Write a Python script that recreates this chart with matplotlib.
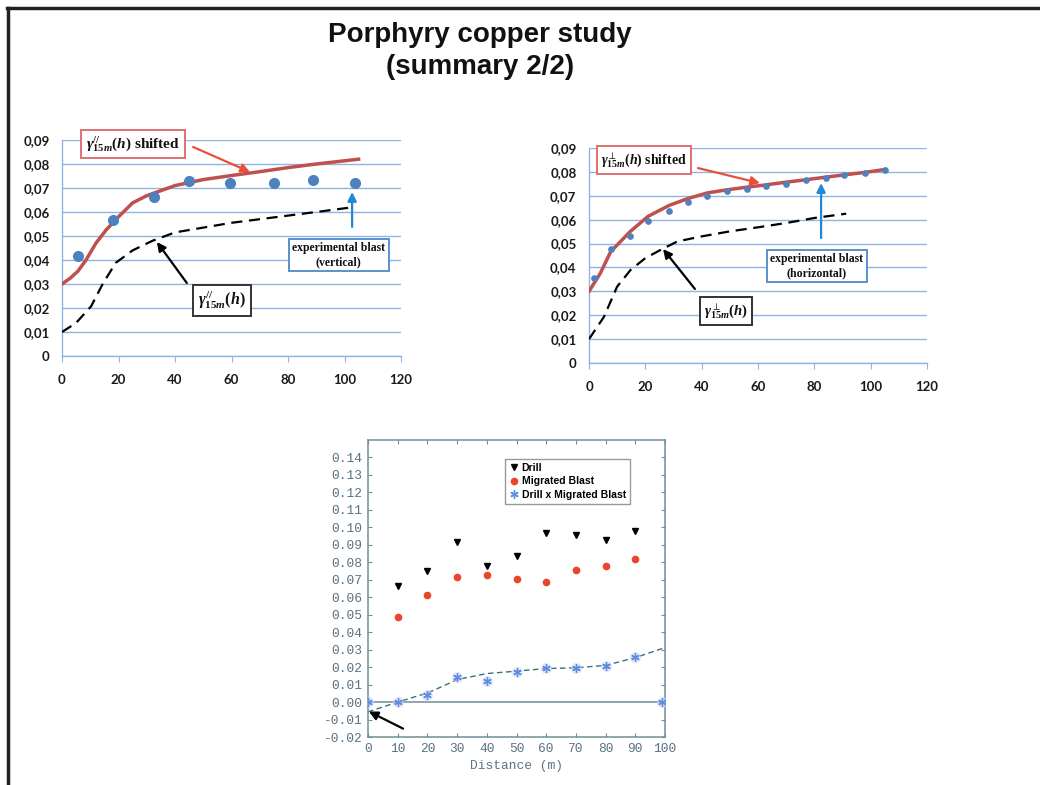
import matplotlib
matplotlib.use("Agg")
import matplotlib.pyplot as plt
from matplotlib.lines import Line2D
from matplotlib.ticker import FuncFormatter, MultipleLocator

plt.rcParams['mathtext.fontset'] = 'custom'
plt.rcParams['mathtext.rm'] = 'Liberation Serif:bold'
plt.rcParams['mathtext.it'] = 'Liberation Serif:bold:italic'
plt.rcParams['mathtext.bf'] = 'Liberation Serif:bold'

# ---------------- data ----------------
# chart 1 : vertical
v_curve_x = [0, 3, 5.6, 8.5, 12, 15.6, 20, 25, 30, 40, 50, 60, 70, 80, 90, 105]
v_curve_y = [0.030, 0.0325, 0.0353, 0.040, 0.047, 0.0525, 0.058, 0.0638, 0.0668, 0.071,
             0.0735, 0.0752, 0.0768, 0.0785, 0.080, 0.082]
v_dots_x = [5.6, 18, 32.4, 45, 59.6, 75, 88.9, 103.7]
v_dots_y = [0.0418, 0.0567, 0.0661, 0.0728, 0.0720, 0.0720, 0.0733, 0.0720]
v_model_x = [0, 5, 10.3, 14.4, 19, 25, 32, 40, 50, 60, 70, 80, 90, 103]
v_model_y = [0.010, 0.0138, 0.0207, 0.030, 0.0388, 0.044, 0.048, 0.0515, 0.0535, 0.0555,
             0.057, 0.0585, 0.060, 0.062]

# chart 2 : horizontal
h_dots_x = [1.8, 7.7, 14.6, 21, 28.5, 35, 42, 49, 56, 62.9, 70, 76.9, 84, 90.7, 97.9, 105]
h_dots_y = [0.0355, 0.0476, 0.0531, 0.0595, 0.0636, 0.0674, 0.070, 0.0718, 0.0729, 0.0739,
            0.075, 0.0764, 0.0775, 0.0785, 0.0795, 0.0809]
h_curve_x = [0, 1.8, 4, 7.7, 14.6, 21, 28.5, 35, 42, 49, 56, 63, 70, 77, 84, 91, 98, 105]
h_curve_y = [0.030, 0.0334, 0.0375, 0.0466, 0.055, 0.0614, 0.066, 0.0688, 0.0712, 0.0725,
             0.0736, 0.0746, 0.0757, 0.0767, 0.0778, 0.0788, 0.0798, 0.081]
h_model_x = [0, 5.3, 10, 14.8, 20, 25.5, 31.4, 40, 50, 60, 70, 80, 91.3]
h_model_y = [0.010, 0.0193, 0.032, 0.039, 0.0439, 0.0474, 0.0509, 0.053, 0.0551, 0.0568,
             0.0586, 0.0607, 0.0625]

# chart 3 : drill vs blast
dist = [10, 20, 30, 40, 50, 60, 70, 80, 90]
drill = [0.0662, 0.075, 0.0916, 0.0778, 0.0837, 0.0965, 0.0954, 0.0925, 0.0977]
migrated = [0.0489, 0.0614, 0.0717, 0.0727, 0.0702, 0.0687, 0.0754, 0.0781, 0.0821]
cross_x = [0, 10, 20, 30, 40, 50, 60, 70, 80, 90, 99]
cross_y = [0.0, 0.0, 0.004, 0.0144, 0.0119, 0.0171, 0.0196, 0.0196, 0.0206, 0.026, 0.0]
fit_x = [0, 10, 20, 26.4, 30, 40, 50, 60, 70, 80, 90, 100]
fit_y = [-0.0056, 0.0, 0.0052, 0.010, 0.0129, 0.0163, 0.0177, 0.0192, 0.0196, 0.021,
         0.0254, 0.0312]

W, H = 1040, 785
fig = plt.figure(figsize=(W / 100, H / 100), dpi=100)
fig.patch.set_facecolor('white')

def rect(l, t, r, b):
    return [l / W, 1 - b / H, (r - l) / W, (b - t) / H]

# slide border
fig.add_artist(Line2D([7 / W, 1.0], [1 - 8 / H, 1 - 8 / H], color='#222222', lw=2.5,
                      transform=fig.transFigure))
fig.add_artist(Line2D([8 / W, 8 / W], [1 - 8 / H, 0], color='#222222', lw=2.5,
                      transform=fig.transFigure))

fig.text(480 / W, 1 - 51 / H, "Porphyry copper study\n(summary 2/2)", ha='center',
         va='center', fontsize=20, fontweight='bold', linespacing=1.35,
         family=['Liberation Sans Narrow', 'Liberation Sans'], color='#111111')

RED = '#c0504d'
BLUE = '#4f81bd'
GRID = '#8db4e2'
serif = 'Liberation Serif'

def comma_fmt(v, pos):
    if abs(v) < 1e-9:
        return '0'
    return ('%.2f' % v).replace('.', ',')

def excel_axes(ax):
    ax.set_xlim(0, 120)
    ax.set_ylim(0, 0.09)
    ax.yaxis.set_major_locator(MultipleLocator(0.01))
    ax.xaxis.set_major_locator(MultipleLocator(20))
    ax.yaxis.set_major_formatter(FuncFormatter(comma_fmt))
    ax.grid(axis='y', color=GRID, lw=1)
    ax.set_axisbelow(True)
    for s in ['top', 'right']:
        ax.spines[s].set_visible(False)
    for s in ['left', 'bottom']:
        ax.spines[s].set_color(GRID)
        ax.spines[s].set_linewidth(1)
    ax.tick_params(axis='y', length=0, pad=9)
    ax.tick_params(axis='x', length=4, color=GRID, pad=9)
    for lab in ax.get_xticklabels() + ax.get_yticklabels():
        lab.set_fontfamily('Lato')
        lab.set_fontweight('bold')
        lab.set_fontsize(9.5)
        lab.set_color('#1a1a1a')

def box(ax, x, y, s, ec, fs):
    ax.text(x, y, s, ha='center', va='center', fontsize=fs, family=serif,
            fontweight='bold', color='#111111', clip_on=False,
            bbox=dict(boxstyle='square,pad=0.3', fc='white', ec=ec, lw=1.4), zorder=6)

def arrow(ax, start, tip, color):
    ax.annotate('', xy=tip, xytext=start, annotation_clip=False,
                arrowprops=dict(arrowstyle='-|>', color=color, lw=1.6,
                                mutation_scale=13, shrinkA=0, shrinkB=0), zorder=7)

# ---------- chart 1 ----------
ax1 = fig.add_axes(rect(62, 140, 401, 356))
ax1.plot(v_curve_x, v_curve_y, color=RED, lw=2.5, zorder=3)
ax1.plot(v_model_x, v_model_y, color='black', lw=1.6, ls=(0, (5, 3)), zorder=3)
ax1.plot(v_dots_x, v_dots_y, 'o', color=BLUE, ms=7, zorder=4, ls='none')
excel_axes(ax1)
box(ax1, 25.1, 0.0883, r'$\gamma^{//}_{15m}(h)$ shifted', '#e07070', 11)
arrow(ax1, (46.4, 0.0871), (66.5, 0.0767), '#e8503a')
box(ax1, 56.6, 0.0233, r'$\gamma^{//}_{15m}(h)$', '#333333', 11.5)
arrow(ax1, (44.2, 0.0304), (33.6, 0.0475), 'black')
box(ax1, 98, 0.0421, 'experimental blast\n(vertical)', '#5b8fd0', 8.5)
arrow(ax1, (102.7, 0.0538), (102.7, 0.0683), '#1f8ad0')

# ---------- chart 2 ----------
ax2 = fig.add_axes(rect(589, 148, 927, 363))
ax2.plot(h_curve_x, h_curve_y, color=RED, lw=2.5, zorder=3)
ax2.plot(h_model_x, h_model_y, color='black', lw=1.6, ls=(0, (5, 3)), zorder=3)
ax2.plot(h_dots_x, h_dots_y, 'o', color=BLUE, ms=3.8, zorder=4, ls='none')
excel_axes(ax2)
box(ax2, 19.5, 0.0849, r'$\gamma^{\perp}_{15m}(h)$ shifted', '#e07070', 10)
arrow(ax2, (38.7, 0.0816), (60.7, 0.0753), '#e8503a')
box(ax2, 48.6, 0.0218, r'$\gamma^{\perp}_{15m}(h)$', '#333333', 10.5)
arrow(ax2, (37.6, 0.031), (26.3, 0.0477), 'black')
box(ax2, 80.9, 0.0406, 'experimental blast\n(horizontal)', '#5b8fd0', 8.5)
arrow(ax2, (82.4, 0.0523), (82.4, 0.0753), '#1f8ad0')

# ---------- chart 3 ----------
FRAME = '#6f8f98'
TICKC = '#5a7282'
ax3 = fig.add_axes(rect(368, 440, 665, 737))
ax3.set_xlim(0, 100)
ax3.set_ylim(-0.02, 0.15)
ax3.axhline(0, color=FRAME, lw=1.1, zorder=1)
ax3.plot(fit_x, fit_y, color='#3c6f80', lw=1.0, ls=(0, (4, 2.5)), zorder=2)
h_drill, = ax3.plot(dist, drill, 'v', color='black', ms=5, ls='none', label='Drill', zorder=4)
h_mig, = ax3.plot(dist, migrated, 'o', color='#e8452c', ms=4.5, ls='none',
                  label='Migrated Blast', zorder=4)
ax3.plot(cross_x, cross_y, 'o', color='#d4d4f4', ms=7, ls='none', alpha=0.5, zorder=3)
h_cross, = ax3.plot(cross_x, cross_y, marker=(6, 2, 0), color='#5b8ee0', mec='#5b8ee0',
                    ms=6, mew=1.0, ls='none', label='Drill x Migrated Blast', zorder=4)
ax3.xaxis.set_major_locator(MultipleLocator(10))
ax3.set_yticks([-0.02 + 0.01 * i for i in range(17)])
ax3.yaxis.set_major_formatter(FuncFormatter(lambda v, p: '%.2f' % v if abs(v) > 1e-9 else '0.00'))
for s in ax3.spines.values():
    s.set_color(FRAME)
    s.set_linewidth(1.1)
ax3.tick_params(direction='in', length=3, color=FRAME, top=True, right=True, pad=4)
for lab in ax3.get_xticklabels() + ax3.get_yticklabels():
    lab.set_fontfamily('Liberation Mono')
    lab.set_fontsize(9.3)
    lab.set_color(TICKC)
ax3.set_xlabel('Distance (m)', family='Liberation Mono', fontsize=9.3, color=TICKC, labelpad=4)
leg = ax3.legend(handles=[h_drill, h_mig, h_cross],
                 loc='upper right', bbox_to_anchor=(0.9, 0.955),
                 prop={'family': 'Liberation Sans', 'weight': 'bold', 'size': 7.5},
                 frameon=True, fancybox=False, edgecolor='#999999', framealpha=1,
                 handletextpad=0.2, handlelength=1.0, borderpad=0.4, labelspacing=0.35)
leg.get_frame().set_linewidth(1)
arrow(ax3, (11.8, -0.0152), (0.3, -0.0054), 'black')

fig.savefig('out.png', dpi=100, facecolor='white')
